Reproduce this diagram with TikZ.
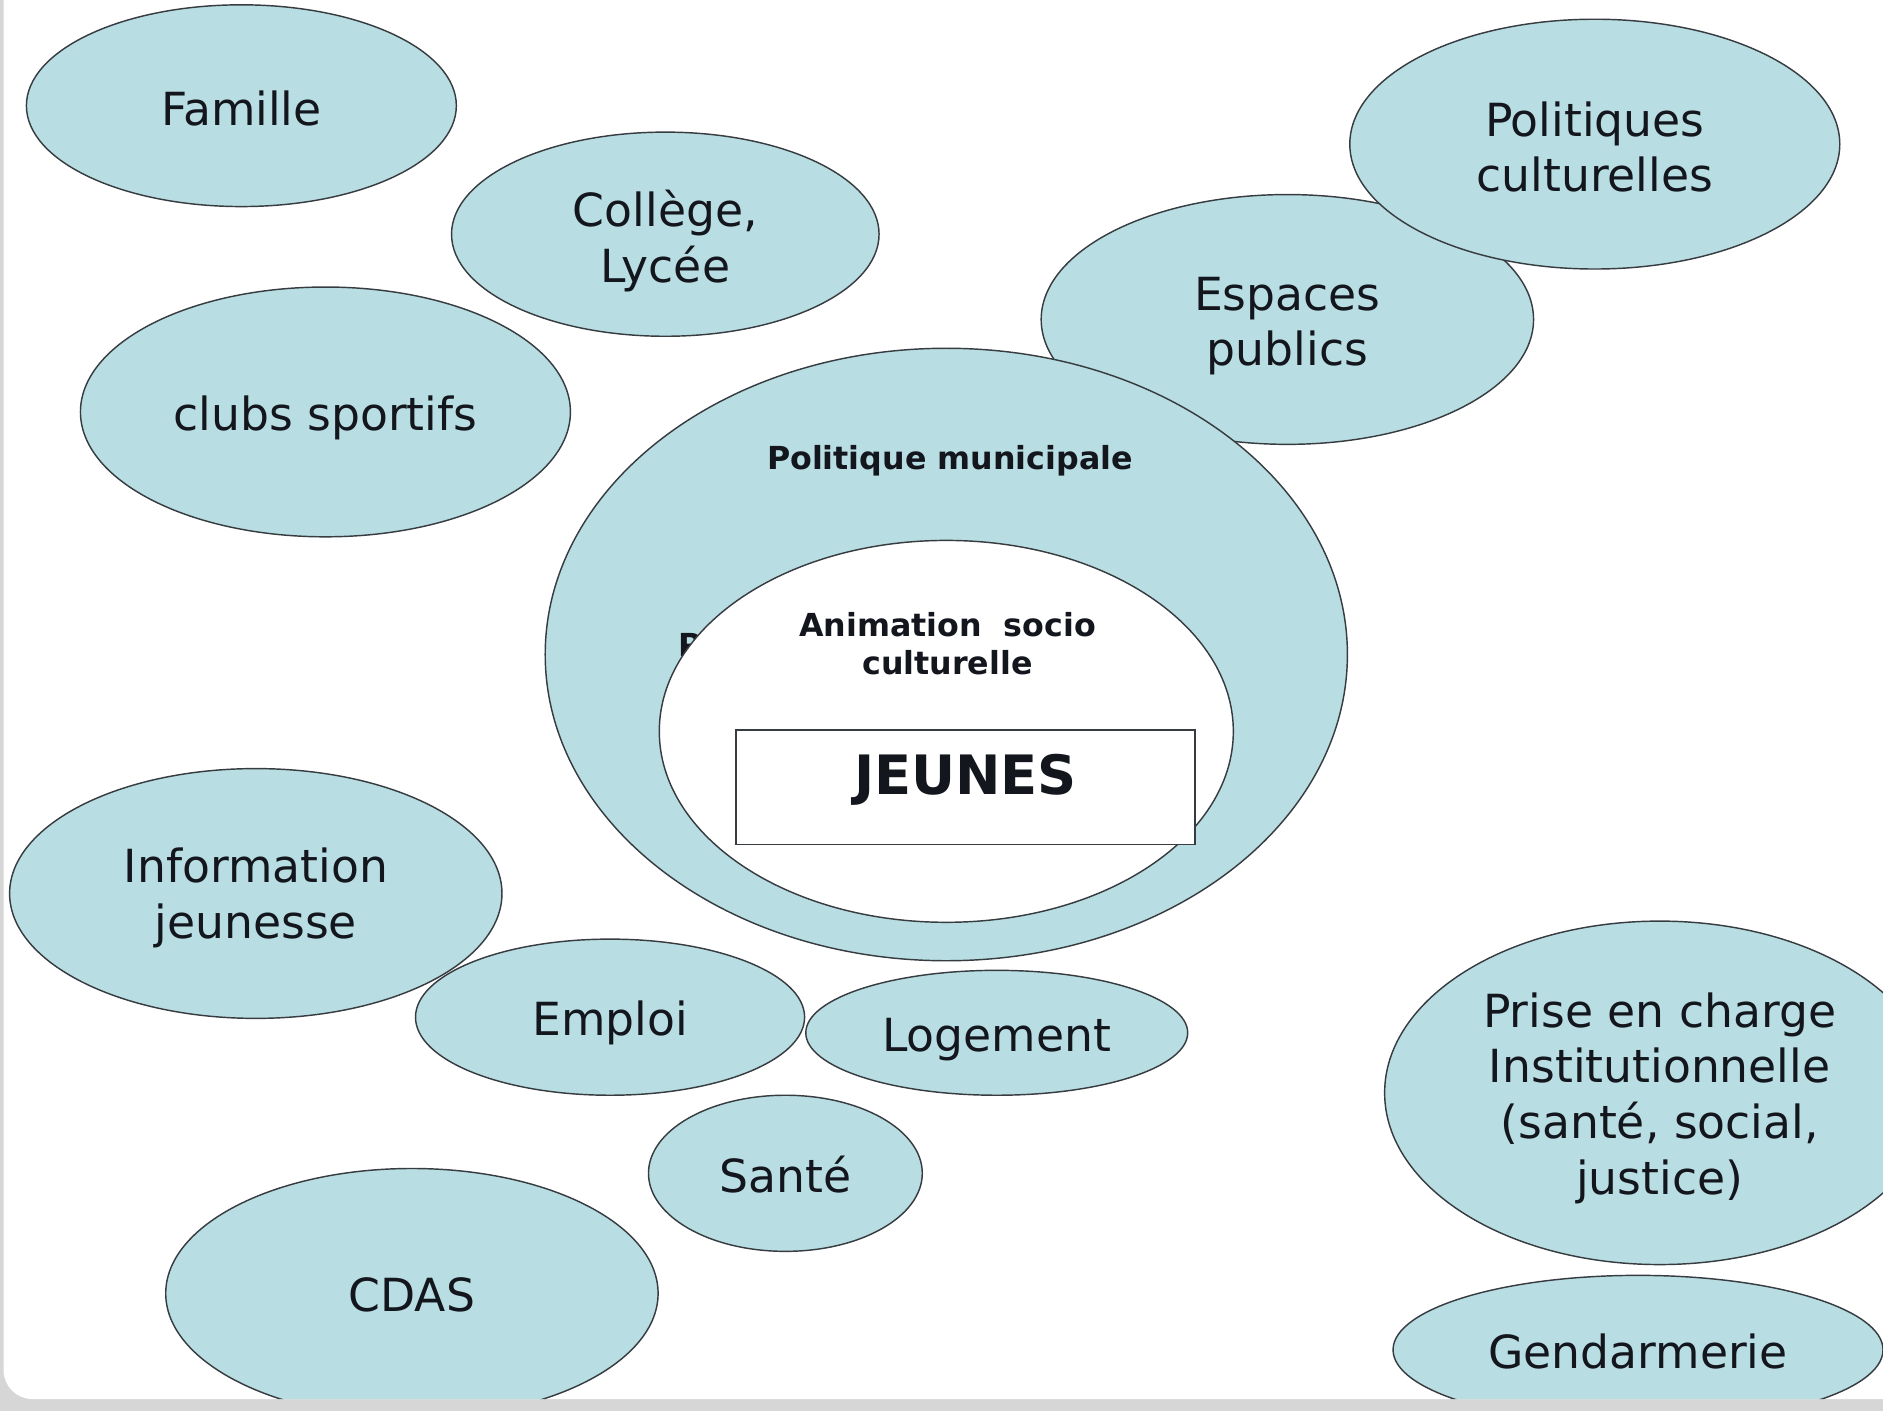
\documentclass[tikz,border=0pt]{standalone}
\usepackage{fontspec}
\setmainfont{DejaVu Sans}
\usetikzlibrary{shapes.geometric}
\definecolor{bubble}{RGB}{184,221,226}
\definecolor{edge}{RGB}{55,60,65}
\definecolor{ink}{RGB}{20,22,30}
\definecolor{framegray}{RGB}{214,214,214}
\def\dnamt{0pt}
\newcommand\lowr[1]{\raisebox{-\dnamt}[\height][\depth]{#1}}
\tikzset{
  dn/.store in=\dnamt,
  bub/.style={ellipse, draw=edge, fill=bubble, line width=0.6pt, inner sep=0pt,
    align=center, text=ink, font=\fontsize{19}{23.2}\selectfont, dn=0pt},
  boldtxt/.style={inner sep=0pt, align=center, text=ink,
    font=\bfseries\fontsize{13.2}{15.5}\selectfont},
  jbox/.style={rectangle, draw=edge, fill=white, line width=0.6pt, inner sep=0pt}
}
\begin{document}
\begin{tikzpicture}[x=0.5pt,y=-0.5pt]
\useasboundingbox (0,0) rectangle (1568,1175);
\fill[framegray] (0,0) rectangle (1568,1175);
\begin{scope}
\clip[rounded corners=12pt] (3,-30) rectangle (1600,1165);
\fill[white] (0,-30) rectangle (1600,1175);
% top-left group
\node[bub, dn=1pt, minimum width=179pt, minimum height=84pt] (famille) at (201,88) {\lowr{Famille}};
\node[bub, dn=2.75pt, minimum width=178pt, minimum height=85pt] (college) at (554,195) {\lowr{Collège,}\\\lowr{Lycée}};
\node[bub, dn=2.5pt, minimum width=204pt, minimum height=104pt] (clubs) at (271,343) {\lowr{clubs sportifs}};
% top-right group
\node[bub, dn=2.75pt, minimum width=205pt, minimum height=104pt] (espaces) at (1072,266) {\lowr{Espaces}\\\lowr{publics}};
\node[bub, dn=1.25pt, minimum width=204pt, minimum height=104pt] (polcult) at (1328,120) {\lowr{Politiques}\\\lowr{culturelles}};
% centre
\node[ellipse, draw=edge, fill=bubble, line width=0.6pt, inner sep=0pt,
      minimum width=334pt, minimum height=255pt] (big) at (788,545) {};
\node[boldtxt, anchor=base west] (hidden) at (565,547) {P};
\node[ellipse, draw=edge, fill=white, line width=0.6pt, inner sep=0pt,
      minimum width=239pt, minimum height=159pt] (inner) at (788,609) {};
\node[boldtxt] (polmun) at (791,384) {Politique municipale};
\node[boldtxt] (anim) at (789,536) {Animation\ \ socio\\culturelle};
\node[jbox, minimum width=191pt, minimum height=47.5pt] (jeunesbox) at (804,655.5) {};
\node[inner sep=0pt, text=ink, font=\bfseries\fontsize{22.6}{27}\selectfont] (jeunes)
      at ([yshift=3.25pt]jeunesbox.center) {JEUNES};
% lower-left group
\node[bub, dn=1.75pt, minimum width=205pt, minimum height=104pt] (info) at (213,744) {\lowr{Information}\\\lowr{jeunesse}};
\node[bub, dn=2.5pt, minimum width=162pt, minimum height=65pt] (emploi) at (508,847) {\lowr{Emploi}};
\node[bub, dn=3pt, minimum width=159pt, minimum height=52pt] (logement) at (830,860) {\lowr{Logement}};
\node[bub, dn=0.5pt, minimum width=114pt, minimum height=65pt] (sante) at (654,977) {\lowr{Santé}};
\node[bub, dn=0.5pt, minimum width=205pt, minimum height=104pt] (cdas) at (343,1077) {\lowr{CDAS}};
% lower-right group
\node[bub, dn=2.25pt, minimum width=229pt, minimum height=143pt] (prise) at (1382,910)
      {\lowr{Prise en charge}\\\lowr{Institutionnelle}\\\lowr{(santé, social,}\\\lowr{justice)}};
\node[bub, dn=0.5pt, minimum width=204pt, minimum height=62pt] (gend) at (1364,1124) {\lowr{Gendarmerie}};
\end{scope}
\end{tikzpicture}
\end{document}
